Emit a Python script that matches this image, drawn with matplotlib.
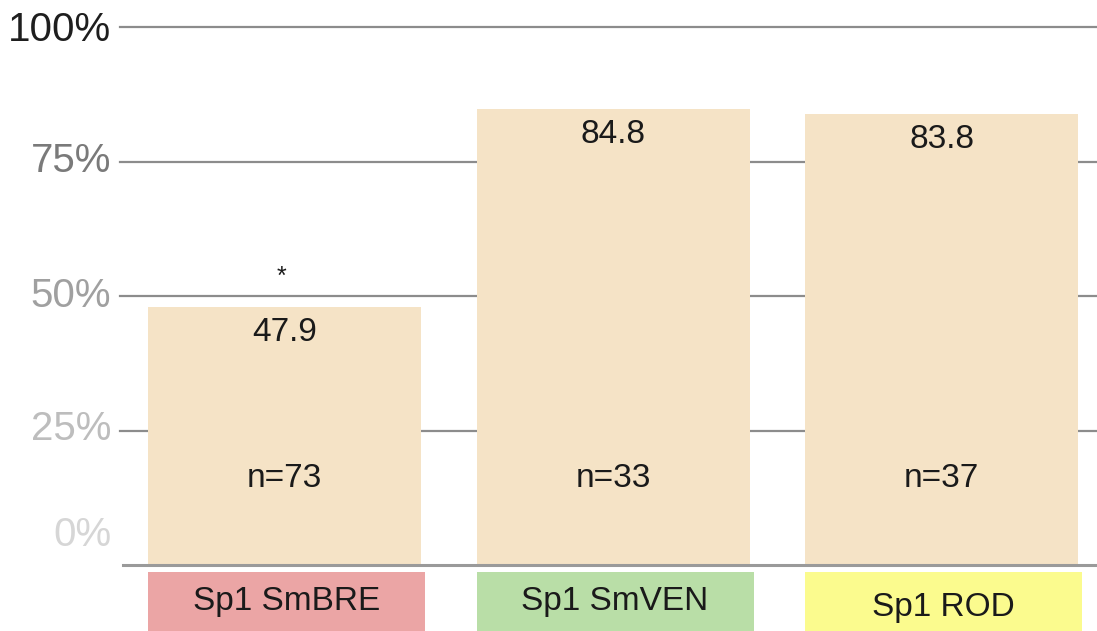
import matplotlib.pyplot as plt
from matplotlib.patches import Rectangle

plt.rcParams['font.family'] = ['Liberation Sans', 'DejaVu Sans']

categories = ["Sp1 SmBRE", "Sp1 SmVEN", "Sp1 ROD"]
values = [47.9, 84.8, 83.8]
counts = [73, 33, 37]
signif = ["*", "", ""]
box_colors = ["#eba5a5", "#b9dea7", "#fbfb8e"]
tick_vals = [0, 25, 50, 75, 100]
tick_colors = ["#d6d6d6", "#bdbdbd", "#a0a0a0", "#7a7a7a", "#1e1e1e"]

W, H = 1097, 631
fig = plt.figure(figsize=(W / 100, H / 100), dpi=100)
# axes spans from the 0% line (y=565px) to the 100% line (y=27px)
ax = fig.add_axes([120 / W, 1 - 565 / H, 1 - 120 / W, (565 - 27) / H])
ax.set_xlim(-0.501, 2.473)
ax.set_ylim(0, 100)
ax.axis("off")

# gridlines
for v in tick_vals[1:]:
    ax.axhline(v, color="#8c8c8c", lw=1.6, zorder=1, clip_on=False)
ax.plot([0.009 - 0.501, 2.473], [0, 0], color="#9a9a9a", lw=2.2, zorder=3, clip_on=False)

x = range(len(categories))
ax.bar(x, values, width=0.831, color="#f5e3c6", zorder=2)

for i, v in enumerate(values):
    ax.text(i, v - 4.7, f"{v:.1f}", ha="center", va="center", fontsize=24, color="#1a1a1a", zorder=4)
    ax.text(i, 16, f"n={counts[i]}", ha="center", va="center", fontsize=24, color="#1a1a1a", zorder=4)
    if signif[i]:
        ax.text(i - 0.01, v + 5.6, signif[i], ha="center", va="center", fontsize=18, color="#1a1a1a")
    # colored category box below the axis
    ax.add_patch(Rectangle((i - 0.415, -12.5), 0.843, 11.2, facecolor=box_colors[i],
                           edgecolor="none", clip_on=False))
    ty = -6.8 if i < 2 else -7.9
    ax.text(i + 0.005, ty, categories[i], ha="center", va="center", fontsize=24, color="#1a1a1a")

# y tick labels with fading colors
label_y = {0: 5.5, 25: 25.2, 50: 50, 75: 75, 100: 99.4}
for v, c in zip(tick_vals, tick_colors):
    ax.text(-0.528, label_y[v], f"{v}%", ha="right", va="center", fontsize=29, color=c, clip_on=False)

fig.savefig("out.png", dpi=100)
